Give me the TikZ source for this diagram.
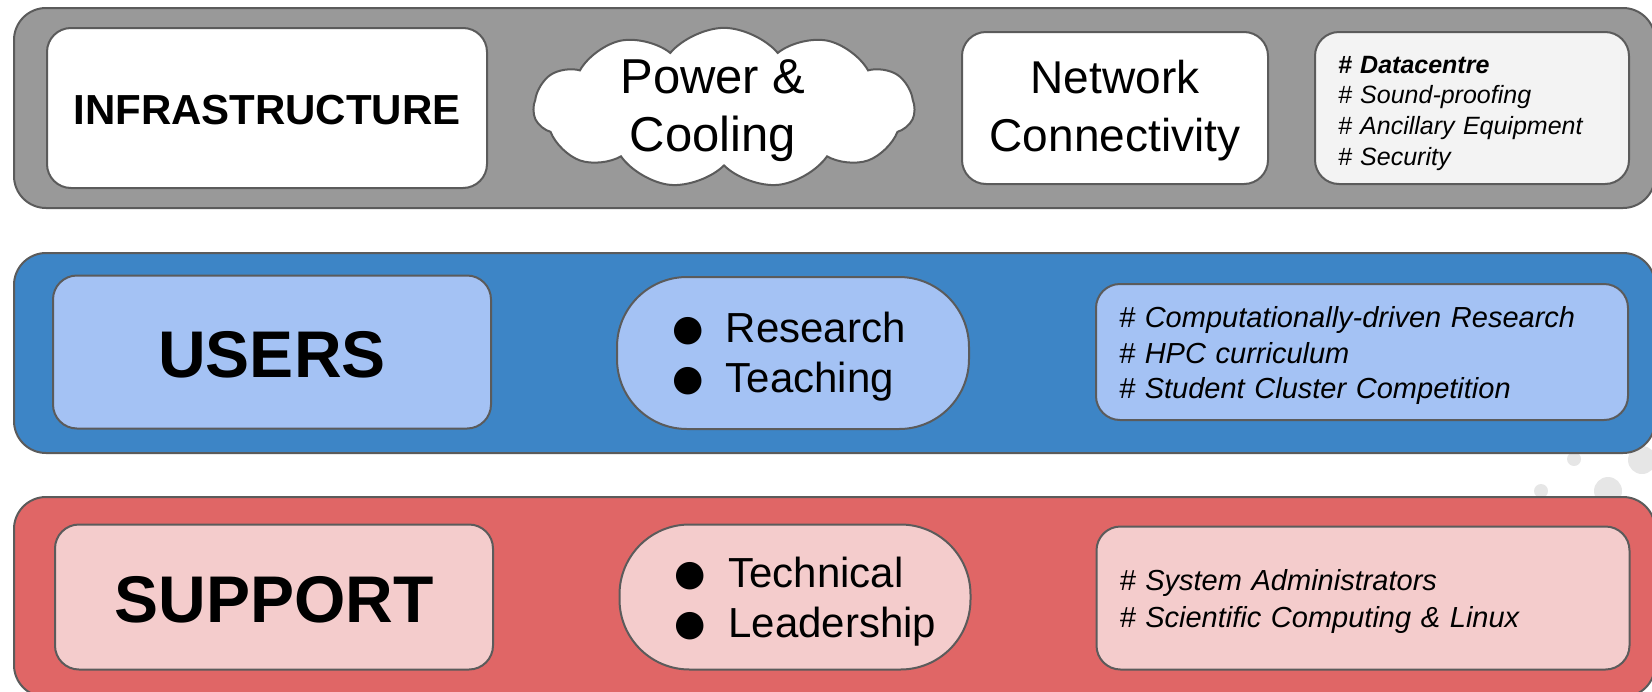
\documentclass[tikz,border=0pt]{standalone}
\usepackage{fontspec}
\setmainfont{Liberation Sans}
\newfontfamily\bulletfont{DejaVu Sans}
\usetikzlibrary{shapes.symbols}
\definecolor{edgegrey}{HTML}{5B5B5B}
\definecolor{infragrey}{HTML}{999999}
\definecolor{notegrey}{HTML}{F3F3F3}
\definecolor{usersblue}{HTML}{3D85C6}
\definecolor{userslight}{HTML}{A4C2F4}
\definecolor{supportred}{HTML}{E06666}
\definecolor{supportlight}{HTML}{F4CCCC}
\definecolor{dotgrey}{HTML}{E6E6E6}
\newcommand{\bul}{\raisebox{2pt}{\bulletfont\fontsize{36}{36}\selectfont ●}}
\newcommand{\lowered}[2]{\raisebox{-#1}[\height][\depth]{#2}}

\begin{document}
\begin{tikzpicture}[x=1pt,y=-1pt,line width=2pt,band/.style={draw=edgegrey,rounded corners=32pt},main node/.style={draw=edgegrey,rounded corners=24pt},note node/.style={main node,align=left,inner xsep=23pt,inner ysep=0pt},pill node/.style={draw=edgegrey,rounded corners=70pt,inner sep=0pt,font=\fontsize{42}{50}\selectfont}]
                \useasboundingbox (0,0) rectangle (1652,691);

                % dots in the background
                \fill[dotgrey] (1574,459) circle (7pt) (1642,460) circle (14pt)
                    (1541,491) circle (7pt) (1608,491) circle (14pt);

                % the three bands
                \draw[band,fill=infragrey] (14,8) rectangle (1655,208);
                \draw[band,fill=usersblue] (14,253) rectangle (1655,453);
                \draw[band,fill=supportred] (14,497) rectangle (1655,697);

                % infrastructure
                \node[main node,fill=white,minimum width=440pt,minimum height=160pt,font=\bfseries\fontsize{42}{48}\selectfont] (infra) at (267,108) {\lowered{2pt}{INFRASTRUCTURE}};
                \node[cloud,draw=edgegrey,fill=white,cloud puffs=11,cloud puff arc=100,aspect=2.5,inner sep=-14pt,minimum width=381pt,minimum height=153pt,font=\fontsize{49}{58}\selectfont] (power) at (724,108) {\lowered{3pt}{\begin{tabular}{@{}c@{}}\hspace*{-22pt}Power \&\\\hspace*{-22pt}Cooling\end{tabular}}};
                \node[main node,fill=white,minimum width=306pt,minimum height=152pt,font=\fontsize{46}{58}\selectfont] (network) at (1115,108) {\lowered{3pt}{\begin{tabular}{@{}c@{}}Network\\Connectivity\end{tabular}}};
                \node[note node,fill=notegrey,text width=268pt,minimum height=152pt,font=\itshape\fontsize{25}{30.6}\selectfont] (infranote) at (1472,108) {\lowered{5pt}{\begin{tabular}{@{}l@{}}\textbf{\# Datacentre}\\\# Sound-proofing\\\# Ancillary Equipment\\\# Security\end{tabular}}};

                % users
                \node[main node,fill=userslight,minimum width=438pt,minimum height=153pt,font=\bfseries\fontsize{66}{70}\selectfont] (users) at (272,352) {\lowered{3pt}{USERS}};
                \node[pill node,fill=userslight,minimum width=352pt,minimum height=152pt] (usersrole) at (793,353) {\lowered{4pt}{\begin{tabular}{@{}l@{\hspace{22pt}}l@{\hspace{8pt}}}\bul & Research\\\bul & Teaching\end{tabular}}};
                \node[note node,fill=userslight,text width=486pt,minimum height=136pt,font=\itshape\fontsize{29}{35.8}\selectfont] (usersnote) at (1362,352) {\lowered{4pt}{\begin{tabular}{@{}l@{}}\# Computationally-driven Research\\\# HPC curriculum\\\# Student Cluster Competition\end{tabular}}};

                % support
                \node[main node,fill=supportlight,minimum width=438pt,minimum height=145pt,font=\bfseries\fontsize{66}{70}\selectfont] (support) at (274,597) {\lowered{3pt}{SUPPORT}};
                \node[pill node,fill=supportlight,minimum width=351pt,minimum height=145pt] (supportrole) at (795,597) {\lowered{5pt}{\begin{tabular}{@{\hspace{21pt}}l@{\hspace{22pt}}l@{}}\bul & Technical\\\bul & Leadership\end{tabular}}};
                \node[note node,fill=supportlight,text width=487pt,minimum height=143pt,font=\itshape\fontsize{29}{37}\selectfont] (supportnote) at (1363,598) {\lowered{4pt}{\begin{tabular}{@{}l@{}}\# System Administrators\\\# Scientific Computing \& Linux\end{tabular}}};
            \end{tikzpicture}
\end{document}
